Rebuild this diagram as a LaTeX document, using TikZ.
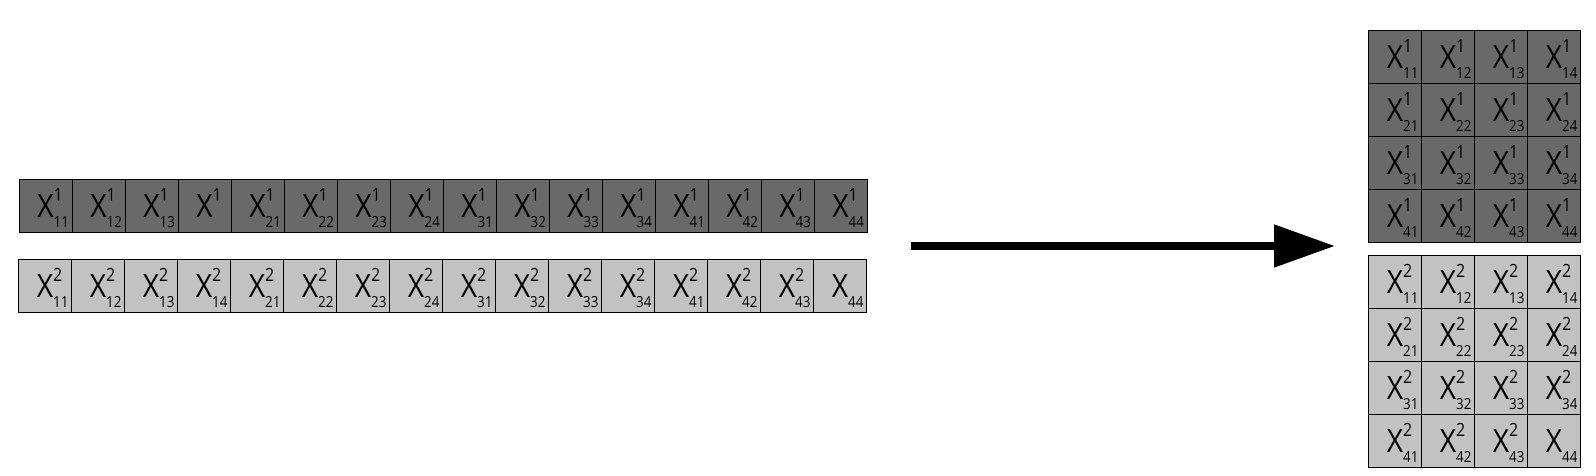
\documentclass[tikz,border=0pt]{standalone}
\usepackage{fontspec}
\setmainfont{Open Sans}[FakeStretch=0.88]
\usetikzlibrary{matrix,arrows.meta}

\definecolor{darkcell}{gray}{0.41}
\definecolor{lightcell}{gray}{0.76}
\newcommand{\supfont}{\fontsize{9.1}{10}\selectfont}
\newcommand{\subfont}{\fontsize{7.6}{8}\selectfont}
\newcommand{\elem}[2]{X\rlap{\smash{\raisebox{8pt}{\supfont #1}}}\rlap{\smash{\raisebox{-5pt}{\subfont #2}}}}

\tikzset{
  cell/.style={draw=black, line width=0.5pt, minimum size=26.5pt, inner sep=0pt,
    font=\fontsize{16.1}{17}\selectfont},
  grid/.style={matrix of nodes, column sep=-0.5pt, row sep=-0.5pt, nodes={cell}},
  darkgrid/.style={grid, nodes={fill=darkcell}},
  lightgrid/.style={grid, nodes={fill=lightcell}}
}

\begin{document}
\begin{tikzpicture}[x=0.5pt,y=0.5pt]
  \useasboundingbox (0,0) rectangle (1596,476);
  \matrix (flat1) at (443,270) [darkgrid]
  {
    \elem{1}{11} & \elem{1}{12} & \elem{1}{13} & \elem{1}{} &
    \elem{1}{21} & \elem{1}{22} & \elem{1}{23} & \elem{1}{24} &
    \elem{1}{31} & \elem{1}{32} & \elem{1}{33} & \elem{1}{34} &
    \elem{1}{41} & \elem{1}{42} & \elem{1}{43} & \elem{1}{44} \\};
  \matrix (flat2) at (442.5,189.5) [lightgrid]
  {
    \elem{2}{11} & \elem{2}{12} & \elem{2}{13} & \elem{2}{14} &
    \elem{2}{21} & \elem{2}{22} & \elem{2}{23} & \elem{2}{24} &
    \elem{2}{31} & \elem{2}{32} & \elem{2}{33} & \elem{2}{34} &
    \elem{2}{41} & \elem{2}{42} & \elem{2}{43} & \elem{}{44} \\};
  \matrix (sq1) at (1474.5,339.5) [darkgrid]
  {
    \elem{1}{11} & \elem{1}{12} & \elem{1}{13} & \elem{1}{14} \\
    \elem{1}{21} & \elem{1}{22} & \elem{1}{23} & \elem{1}{24} \\
    \elem{1}{31} & \elem{1}{32} & \elem{1}{33} & \elem{1}{34} \\
    \elem{1}{41} & \elem{1}{42} & \elem{1}{43} & \elem{1}{44} \\};
  \matrix (sq2) at (1474.5,114.5) [lightgrid]
  {
    \elem{2}{11} & \elem{2}{12} & \elem{2}{13} & \elem{2}{14} \\
    \elem{2}{21} & \elem{2}{22} & \elem{2}{23} & \elem{2}{24} \\
    \elem{2}{31} & \elem{2}{32} & \elem{2}{33} & \elem{2}{34} \\
    \elem{2}{41} & \elem{2}{42} & \elem{2}{43} & \elem{}{44} \\};
  % reshape arrow
  \coordinate (from) at (911,230);
  \coordinate (to) at (1335,230);
  \draw[line width=4pt, -{Triangle[length=30.5pt,width=20.5pt]}] (from) -- (to);
\end{tikzpicture}
\end{document}
